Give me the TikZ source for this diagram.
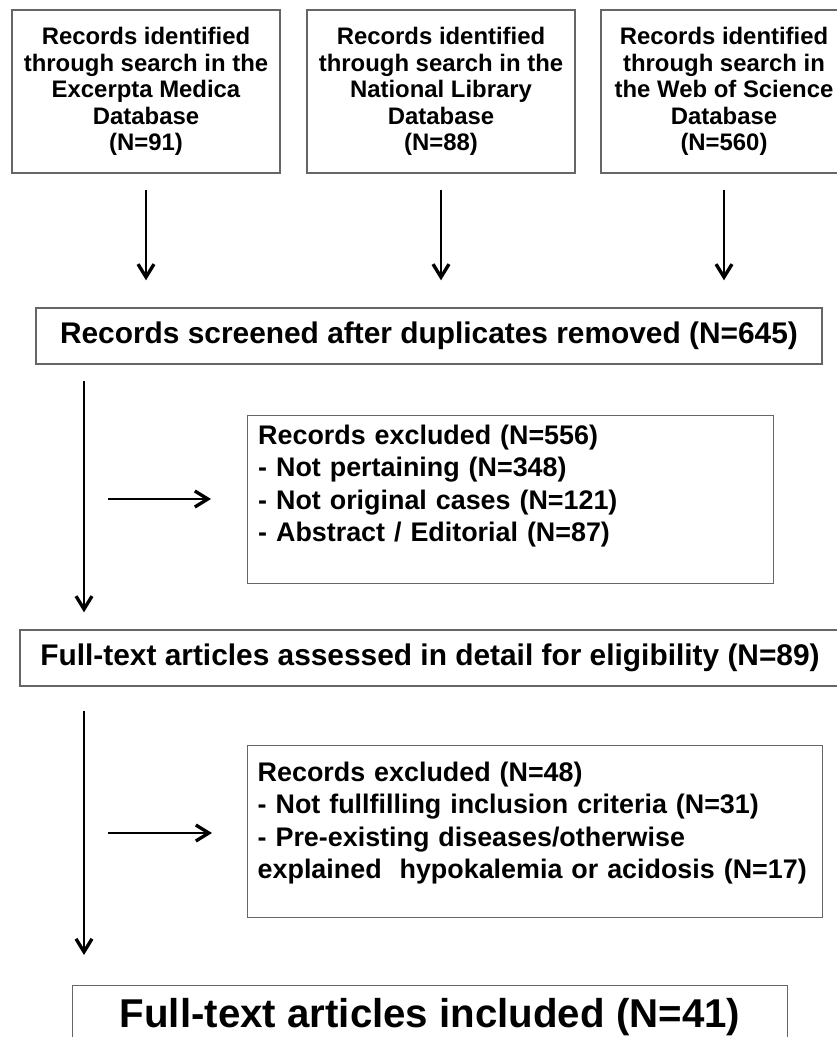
\documentclass[tikz,border=0pt]{standalone}
\usepackage{fontspec}
\newfontfamily\boxfont{Liberation Sans}
\usetikzlibrary{calc, arrows.meta}
\usetikzlibrary{positioning}

\tikzset{
    box/.style={rectangle, draw=black!60, line width=0.8pt, inner sep=2pt, font=\boxfont\bfseries},
    flow/.style={-{Straight Barb[length=2.6mm, width=3.2mm, line width=1.9pt]}, line width=1.5pt}
}

\begin{document}
\begin{tikzpicture}[x=0.02cm, y=-0.02cm]

        \useasboundingbox (0,0) rectangle (836,1037);

        % sources
        \node[box, minimum width=5.36cm, minimum height=3.26cm, align=center, font=\boxfont\bfseries\fontsize{13.6}{15.1}\selectfont] (src1) at (146,91.5)
            {Records identified\\through search in the\\Excerpta Medica\\Database\\(N=91)};
        \node[box, minimum width=5.36cm, minimum height=3.26cm, align=center, font=\boxfont\bfseries\fontsize{13.6}{15.1}\selectfont] (src2) at (441,91.5)
            {Records identified\\through search in the\\National Library\\Database\\(N=88)};
        \node[box, minimum width=4.92cm, minimum height=3.26cm, align=center, font=\boxfont\bfseries\fontsize{13.6}{15.1}\selectfont] (src3) at (724,91.5)
            {Records identified\\through search in\\the Web of Science\\Database\\(N=560)};

        % screening
        \node[box, minimum width=15.72cm, minimum height=1.12cm, font=\boxfont\bfseries\fontsize{17}{19}\selectfont] (screen) at (429,336)
            {Records screened after duplicates removed (N=645)};

        % sources to screening
        \foreach \i in {1,2,3}
            \draw[flow, shorten <=0.32cm, shorten >=0.54cm] (src\i.south) -- (src\i.south |- screen.north);

        % first exclusion
        \node[box, minimum width=10.52cm, minimum height=3.36cm, anchor=north west, text width=10.1cm, font=\boxfont\bfseries\fontsize{15.3}{18.5}\selectfont] (excl1) at (247,415)
            {Records excluded (N=556)\\- Not pertaining (N=348)\\- Not original cases (N=121)\\- Abstract / Editorial (N=87)\\~};

        % eligibility
        \node[box, minimum width=16.4cm, minimum height=1.12cm, font=\boxfont\bfseries\fontsize{17}{19}\selectfont] (assess) at (430,658)
            {Full-text articles assessed in detail for eligibility (N=89)};

        % second exclusion
        \node[box, minimum width=11.5cm, minimum height=3.44cm, anchor=north west, text width=11.1cm, font=\boxfont\bfseries\fontsize{15.3}{18.5}\selectfont] (excl2) at (247,745)
            {Records excluded (N=48)\\- Not fullfilling inclusion criteria (N=31)\\- Pre-existing diseases/otherwise\\explained\ \ hypokalemia or acidosis (N=17)\\[-0.2cm]~};

        % included
        \node[box, minimum width=14.3cm, anchor=north, inner ysep=7.4pt, text depth=40pt, font=\boxfont\bfseries\fontsize{22.9}{26}\selectfont] (final) at (430,985)
            {Full-text articles included (N=41)};

        % main stem
        \coordinate (stem1) at (84,499);
        \coordinate (stem2) at (84,833);
        \draw[flow, shorten <=0.32cm, shorten >=0.34cm] (screen.south -| stem1) -- (assess.north -| stem1);
        \draw[flow, shorten <=0.48cm, shorten >=0.60cm] (assess.south -| stem2) -- (final.north -| stem2);

        % stem to exclusions
        \draw[flow, shorten <=0.48cm, shorten >=0.72cm] (stem1) -- (stem1 -| excl1.west);
        \draw[flow, shorten <=0.48cm, shorten >=0.70cm] (stem2) -- (stem2 -| excl2.west);

\end{tikzpicture}
\end{document}
